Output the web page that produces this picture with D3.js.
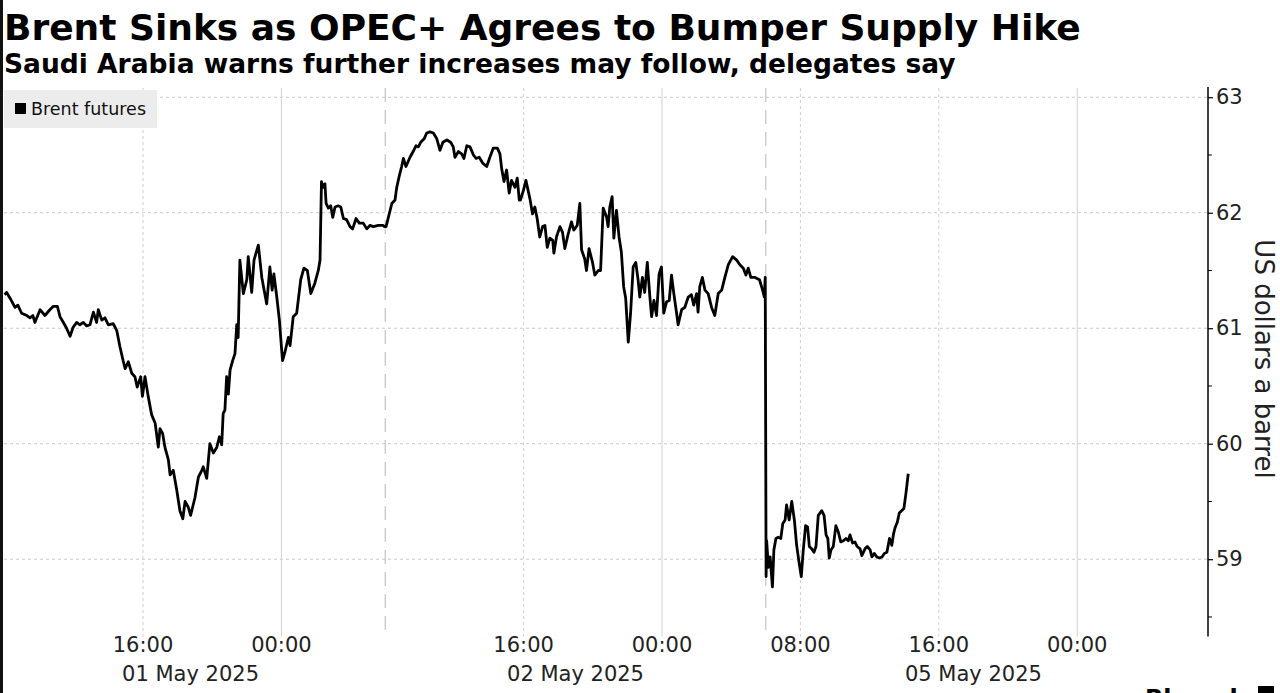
<!DOCTYPE html>
<html>
<head>
<meta charset="utf-8">
<script src="https://cdn.jsdelivr.net/npm/d3@7"></script>
<style>
  html, body { margin: 0; padding: 0; background: #fff; }
  svg { display: block; }
  text { font-family: "DejaVu Sans", Verdana, sans-serif; }
</style>
</head>
<body>
<svg id="chart" width="1280" height="693"></svg>
<script>
// ---------------- DATA ----------------
const title = "Brent Sinks as OPEC+ Agrees to Bumper Supply Hike";
const subtitle = "Saudi Arabia warns further increases may follow, delegates say";
const seriesName = "Brent futures";
const yAxisLabel = "US dollars a barrel";

// trading sessions (UTC+8 clock); breaks between them are collapsed on the x axis
const sessionOpen  = ["2025-05-01T08:00", "2025-05-02T08:00", "2025-05-05T06:00", "2025-05-06T08:00"];
const sessionClose = ["2025-05-02T06:00", "2025-05-03T06:00", "2025-05-06T06:00", "2025-05-07T06:00"];

// minutes after each session open, and price (USD/bbl)
const s1Minutes = [0,7,19,36,46,59,77,88,98,105,123,140,157,169,183,192,204,215,227,238,250,261,273,285,296,308,319,325,337,348,360,377,389,400,412,418,429,441,452,460,472,478,487,498,510,522,533,539,548,556,568,574,585,597,608,618,626,637,645,660,672,684,689,701,712,724,736,745,753,758,764,770,776,782,791,799,805,810,816,828,840,845,857,865,880,892,900,909,920,928,934,944,953,961,964,972,984,990,1001,1013,1027,1038,1050,1062,1076,1088,1094,1099,1105,1111,1115,1123,1131,1138,1146,1157,1166,1175,1186,1198,1207,1219,1230,1244,1256,1267,1279,1296,1313,1317];
const s1Prices  = [61.29,61.31,61.26,61.18,61.20,61.13,61.11,61.09,61.11,61.05,61.16,61.11,61.16,61.19,61.19,61.10,61.05,61.00,60.93,61.01,61.05,61.03,61.05,61.02,61.03,61.14,61.05,61.16,61.07,61.09,61.03,61.04,60.98,60.84,60.71,60.65,60.71,60.61,60.58,60.49,60.58,60.41,60.58,60.41,60.25,60.18,59.97,60.13,60.09,59.97,59.86,59.73,59.77,59.60,59.42,59.35,59.50,59.45,59.38,59.53,59.71,59.77,59.80,59.70,60.00,59.92,59.97,60.06,59.99,60.26,60.29,60.58,60.43,60.64,60.72,60.78,61.03,60.92,61.59,61.30,61.42,61.62,61.31,61.59,61.72,61.44,61.33,61.21,61.53,61.33,61.47,61.27,61.07,60.81,60.72,60.79,60.92,60.85,61.10,61.13,61.42,61.52,61.50,61.30,61.39,61.50,61.59,62.27,62.22,62.25,62.08,62.04,62.06,61.96,62.05,62.06,62.05,61.95,61.94,61.88,61.86,61.95,61.91,61.91,61.86,61.89,61.88,61.89,61.89,61.88];

const s2Minutes = [3,11,23,34,40,48,57,63,72,86,97,107,115,123,135,144,155,167,179,190,200,214,227,236,242,254,265,273,283,294,306,315,326,338,352,363,375,389,398,404,412,421,430,438,450,458,465,469,479,488,502,511,519,527,536,546,554,562,571,581,585,594,606,615,623,635,646,654,666,675,681,692,698,707,719,727,739,747,756,768,773,779,787,793,802,811,819,827,834,843,851,860,869,877,883,892,900,909,918,924,932,941,950,958,966,976,985,993,1001,1010,1016,1028,1039,1051,1062,1070,1080,1085,1091,1100,1109,1120,1132,1143,1155,1167,1178,1190,1205,1219,1230,1242,1251,1259,1268,1283,1298,1309,1315,1318];
const s2Prices  = [61.88,61.96,62.08,62.11,62.22,62.31,62.40,62.47,62.40,62.48,62.53,62.58,62.57,62.61,62.64,62.69,62.70,62.69,62.64,62.54,62.61,62.63,62.61,62.57,62.48,62.53,62.51,62.47,62.58,62.57,62.50,62.47,62.48,62.43,62.40,62.48,62.56,62.56,62.51,62.38,62.27,62.37,62.17,62.28,62.22,62.30,62.11,62.11,62.19,62.28,62.12,61.99,62.05,61.95,61.79,61.88,61.89,61.70,61.78,61.76,61.65,61.79,61.88,61.83,61.69,61.82,61.92,61.85,61.89,62.08,61.68,61.60,61.50,61.69,61.57,61.46,61.50,61.50,62.04,61.96,61.88,62.05,62.14,61.78,62.02,61.79,61.66,61.36,61.26,60.88,61.13,61.53,61.57,61.42,61.27,61.44,61.31,61.57,61.27,61.10,61.24,61.11,61.47,61.53,61.13,61.23,61.24,61.46,61.30,61.14,61.03,61.16,61.18,61.27,61.29,61.20,61.30,61.14,61.36,61.44,61.33,61.30,61.18,61.11,61.30,61.33,61.44,61.55,61.62,61.59,61.55,61.52,61.46,61.52,61.44,61.44,61.42,61.33,61.27,61.44];

const s3Minutes = [1,3,9,15,23,28,35,43,52,59,67,72,81,90,99,107,116,123,130,138,145,151,159,167,174,182,194,202,209,215,220,226,234,243,251,260,269,278,286,292,301,309,317,327,333,344,352,362,368,376,385,394,403,411,420,429,437,443,448,456,463,471,479,486,494];
const s3Prices  = [58.85,59.16,58.93,59.02,58.76,59.08,59.18,59.19,59.18,59.31,59.34,59.47,59.34,59.50,59.34,59.12,58.96,58.85,59.08,59.29,59.28,59.11,59.09,59.06,59.11,59.38,59.42,59.38,59.21,59.18,59.01,59.08,59.11,59.29,59.24,59.15,59.16,59.18,59.16,59.21,59.14,59.15,59.11,59.09,59.03,59.09,59.11,59.08,59.02,59.05,59.02,59.01,59.02,59.05,59.06,59.18,59.12,59.22,59.27,59.32,59.40,59.42,59.44,59.57,59.74];

// x axis ticks
const xTickTimes  = ["2025-05-01T16:00", "2025-05-02T00:00", "2025-05-02T16:00", "2025-05-03T00:00", "2025-05-05T08:00", "2025-05-05T16:00", "2025-05-06T00:00"];
const xTickLabels = ["16:00", "00:00", "16:00", "00:00", "08:00", "16:00", "00:00"];
const dateLabelTimes = ["2025-05-01T18:45", "2025-05-02T19:00", "2025-05-05T18:00"];
const dateLabels     = ["01 May 2025", "02 May 2025", "05 May 2025"];
// session-break markers (dashed)
const breakTimes = ["2025-05-02T06:00", "2025-05-03T06:00"];

// y axis ticks
const yTicks = [59, 60, 61, 62, 63];
const yMinorTicks = [58.5, 59.5, 60.5, 61.5, 62.5];

// ---------------- BUILD ----------------
const parse = d3.utcParse("%Y-%m-%dT%H:%M");
const opens = sessionOpen.map(parse), closes = sessionClose.map(parse);
const HOUR = 3600e3;
function tradingHours(date) {
  let acc = 0;
  for (let i = 0; i < opens.length; i++) {
    if (date < opens[i]) return acc;
    if (date <= closes[i]) return acc + (date - opens[i]) / HOUR;
    acc += (closes[i] - opens[i]) / HOUR;
  }
  return acc;
}

const series = [];
[[s1Minutes, s1Prices], [s2Minutes, s2Prices], [s3Minutes, s3Prices]].forEach(([mins, prices], si) => {
  mins.forEach((m, i) => series.push({ t: new Date(+opens[si] + m * 60e3), v: prices[i] }));
});

const svg = d3.select("#chart");
const W = 1280, H = 693;
const plotLeft = 4.6, plotRight = 1208, plotTop = 88, plotBottom = 636.6;

const x = d3.scaleLinear().domain([0, 69.56]).range([plotLeft, plotRight]);
const y = d3.scaleLinear().domain([58.33, 63.08]).range([plotBottom, plotTop]);
const X = d => x(tradingHours(typeof d === "string" ? parse(d) : d));

// left black edge (as in the reference screenshot)
svg.append("rect").attr("x", 0).attr("y", 0).attr("width", 3).attr("height", H).attr("fill", "#111");

// titles
svg.append("text").attr("x", 4).attr("y", 40)
  .attr("font-size", 36).attr("font-weight", "bold").attr("fill", "#000").text(title);
svg.append("text").attr("x", 4).attr("y", 73)
  .attr("font-size", 26.5).attr("font-weight", "bold").attr("fill", "#000").text(subtitle);

// horizontal grid
svg.append("g").selectAll("line").data(yTicks).join("line")
  .attr("x1", 4).attr("x2", plotRight)
  .attr("y1", d => y(d)).attr("y2", d => y(d))
  .attr("stroke", "#c8c8c8").attr("stroke-width", 1).attr("stroke-dasharray", "3,3");

// vertical grid
svg.append("g").selectAll("line").data(xTickTimes).join("line")
  .attr("x1", d => X(d)).attr("x2", d => X(d))
  .attr("y1", plotTop).attr("y2", plotBottom)
  .attr("stroke", (d, i) => xTickLabels[i] === "00:00" ? "#d0d0d0" : "#cfcfcf")
  .attr("stroke-width", 1)
  .attr("stroke-dasharray", (d, i) => xTickLabels[i] === "00:00" ? null : "3,3");

// session breaks
svg.append("g").selectAll("line").data(breakTimes).join("line")
  .attr("x1", d => X(d)).attr("x2", d => X(d))
  .attr("y1", plotTop).attr("y2", plotBottom)
  .attr("stroke", "#b8b8b8").attr("stroke-width", 1).attr("stroke-dasharray", "14,8");

// legend
const lg = svg.append("g");
lg.append("rect").attr("x", 4).attr("y", 90).attr("width", 153).attr("height", 38).attr("fill", "#ececec");
lg.append("rect").attr("x", 15).attr("y", 103).attr("width", 11).attr("height", 11).attr("fill", "#000");
lg.append("text").attr("x", 31).attr("y", 115).attr("font-size", 17.5).attr("fill", "#111").text(seriesName);

// y axis
const yAxis = d3.axisRight(y).tickValues(yTicks).tickSize(5).tickPadding(3).tickFormat(d3.format("d"));
const gy = svg.append("g").attr("transform", `translate(${plotRight},0)`).call(yAxis);
gy.select(".domain").remove();
gy.selectAll(".tick line").attr("stroke", "#000").attr("stroke-width", 1.2);
gy.selectAll(".tick text").attr("font-size", 21).attr("fill", "#222")
  .attr("font-family", "'DejaVu Sans', Verdana, sans-serif");
gy.append("line").attr("x1", 0).attr("x2", 0).attr("y1", 87).attr("y2", plotBottom)
  .attr("stroke", "#000").attr("stroke-width", 1.5);
gy.selectAll(".minor").data(yMinorTicks).join("line").attr("class", "minor")
  .attr("x1", 0).attr("x2", 4).attr("y1", d => y(d)).attr("y2", d => y(d))
  .attr("stroke", "#000").attr("stroke-width", 1);

svg.append("text")
  .attr("transform", `translate(1255,359) rotate(90)`)
  .attr("text-anchor", "middle").attr("font-size", 26).attr("fill", "#222").text(yAxisLabel);

// x axis labels
svg.append("g").selectAll("text").data(xTickTimes).join("text")
  .attr("x", d => X(d)).attr("y", 652).attr("text-anchor", "middle")
  .attr("font-size", 21).attr("fill", "#222").text((d, i) => xTickLabels[i]);
svg.append("g").selectAll("text").data(dateLabelTimes).join("text")
  .attr("x", d => X(d)).attr("y", 681).attr("text-anchor", "middle")
  .attr("font-size", 21).attr("fill", "#222").text((d, i) => dateLabels[i]);

// line
const line = d3.line().x(d => X(d.t)).y(d => y(d.v));
svg.append("path").datum(series).attr("d", line)
  .attr("fill", "none").attr("stroke", "#000").attr("stroke-width", 2.8)
  .attr("stroke-linejoin", "round");

// footer (cut off at bottom, as in reference)
svg.append("text").attr("x", 1145).attr("y", 707).attr("font-size", 24).attr("font-weight", "bold")
  .attr("fill", "#000").text("Bloomberg");
svg.append("rect").attr("x", 1258).attr("y", 686).attr("width", 16).attr("height", 16).attr("fill", "#000");
</script>
</body>
</html>
